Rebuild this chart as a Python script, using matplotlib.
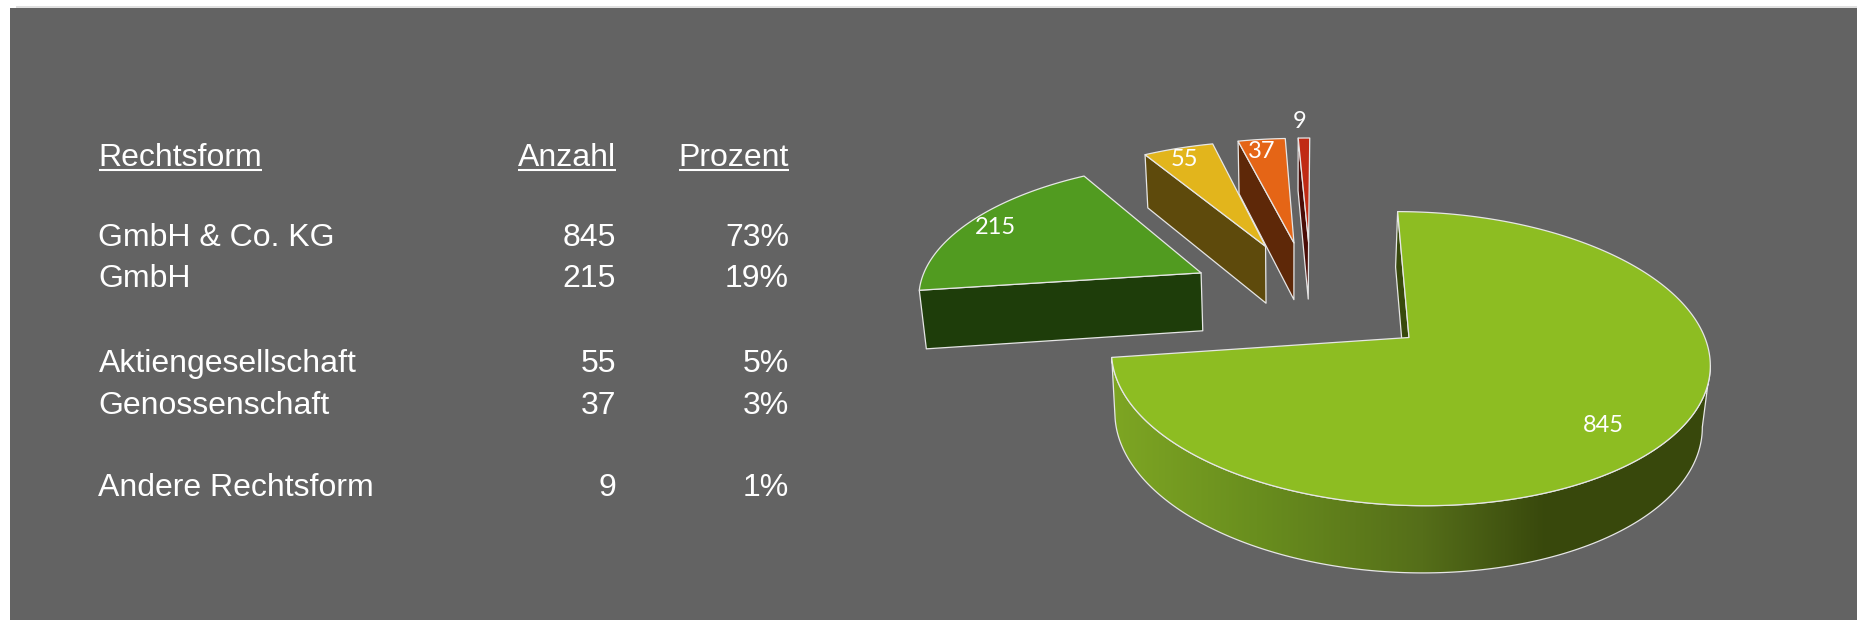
import matplotlib
matplotlib.use("Agg")
import matplotlib.pyplot as plt
import matplotlib.patches as patches
import numpy as np

# table
forms = ["GmbH & Co. KG", "GmbH", "Aktiengesellschaft", "Genossenschaft", "Andere Rechtsform"]
counts = [845, 215, 55, 37, 9]
percents = ["73%", "19%", "5%", "3%", "1%"]
headers = ["Rechtsform", "Anzahl", "Prozent"]

W, H = 1857, 620
fig = plt.figure(figsize=(W / 100, H / 100), dpi=100, facecolor="white")
ax = fig.add_axes([0, 0, 1, 1])
ax.axis("off")

BG = "#636363"
EDGE = "#e6e6e6"
top_cols = ["#8dbd22", "#519b20", "#e2b51c", "#e56516", "#c02a14"]
wall_cols = ["#38490c", "#1e3d0a", "#5e4a0c", "#5e2808", "#4a0c06"]
EXPLODE = 0.44

ax.add_patch(patches.Rectangle((10, 8), W, H, facecolor=BG, edgecolor="none", zorder=1))
ax.add_patch(patches.Rectangle((16, 5.5), W, 2.5, facecolor="#e0e0e0", edgecolor="none", zorder=0))


def direction(a):
    return np.array([np.cos(np.radians(a)), np.sin(np.radians(a))])


# plane -> screen, perspective. Origin is the centre of the big slice
def project(p):
    x, y = p[0], p[1]
    w = 1 + 0.1438 * y
    return np.array([1409 + (296 * x - 13 * y) / w, 337.5 + (0.5 * x - 144 * y) / w])


def drop(pts):
    pts = np.atleast_2d(pts)
    d = 47 + 0.04 * pts[:, 1]
    return np.column_stack([pts[:, 0] - 0.019 * (pts[:, 0] - 1290), pts[:, 1] + d])


def poly(pts, fc, z):
    ax.add_patch(patches.Polygon(pts, closed=True, facecolor=fc, edgecolor=EDGE,
                                 linewidth=0.9, joinstyle="round", zorder=z))


total = float(sum(counts))
sweeps = [c / total * 360 for c in counts]
starts = 90 - np.concatenate([[0], np.cumsum(sweeps)[:-1]])
ends = starts - np.array(sweeps)
mids = (starts + ends) / 2

pie_center = -EXPLODE * direction(mids[0])

slices = []
for i in range(len(counts)):
    apex = pie_center + EXPLODE * direction(mids[i])
    angles = np.linspace(starts[i], ends[i], max(int(sweeps[i] * 2), 4))
    arc = np.array([project(apex + direction(a)) for a in angles])
    slices.append((project(apex), arc))

# small slices, right to left so that they overlap properly
for i in [4, 3, 2, 1]:
    ap, arc = slices[i]
    z = 10 + (4 - i) * 2
    corner = arc[0]
    poly(np.vstack([ap, corner, drop(corner), drop(ap)]), wall_cols[i], z)
    poly(np.vstack([ap, arc]), top_cols[i], z + 1)

# big slice: sliver at the cut, gradient rim, top
ap, arc = slices[0]
poly(np.vstack([arc[0], ap, drop(ap), drop(arc[0])]), wall_cols[0], 20)

rim = arc[arc.shape[0] - 1:np.argmax(arc[:, 0]) - 1:-1]
rim_poly = np.vstack([rim, drop(rim)[::-1]])
clip = patches.Polygon(rim_poly, closed=True, transform=ax.transData, facecolor="none",
                       edgecolor=EDGE, linewidth=0.9, zorder=22)
ax.add_patch(clip)

xs = np.arange(1100, 1730)
stops_x = [1116, 1256, 1422, 1504, 1546]
stops = np.array([[125, 165, 35], [105, 142, 30], [85, 110, 25], [66, 85, 17], [56, 72, 12]]) / 255
grad = np.stack([np.interp(xs, stops_x, stops[:, k]) for k in range(3)], axis=-1)[None, :, :]
im = ax.imshow(grad, extent=(1100, 1730, 600, 300), aspect="auto", zorder=21)
im.set_clip_path(clip)

poly(np.vstack([ap, arc]), top_cols[0], 23)

# value labels on the pie
label_pos = [(1603, 426), (995, 228), (1184, 159), (1262, 151), (1300, 121)]
for c, (lx, ly) in zip(counts, label_pos):
    ax.text(lx, ly, str(c), color="white", fontsize=17, ha="center", va="center",
            family="Lato", zorder=30)

# table text
tf = dict(color="white", fontsize=23, family="Liberation Sans", va="baseline", zorder=30)
col_x = [98.5, 616, 789]
head_y = 166
row_y = [245.5, 287, 372, 413.5, 496.4]

head_txt = [ax.text(col_x[0], head_y, headers[0], ha="left", **tf),
            ax.text(col_x[1], head_y, headers[1], ha="right", **tf),
            ax.text(col_x[2], head_y, headers[2], ha="right", **tf)]
for name, c, p, y in zip(forms, counts, percents, row_y):
    ax.text(col_x[0], y, name, ha="left", **tf)
    ax.text(col_x[1], y, str(c), ha="right", **tf)
    ax.text(col_x[2], y, p, ha="right", **tf)

# underlined headers
ax.set_xlim(0, W)
ax.set_ylim(H, 0)
rend = fig.canvas.get_renderer()
for t in head_txt:
    bb = t.get_window_extent(rend)
    ax.plot([bb.x0, bb.x1], [170, 170], color="white", lw=1.5, solid_capstyle="butt", zorder=30)

ax.set_xlim(0, W)
ax.set_ylim(H, 0)
plt.savefig("out.png", dpi=100, facecolor="white")
